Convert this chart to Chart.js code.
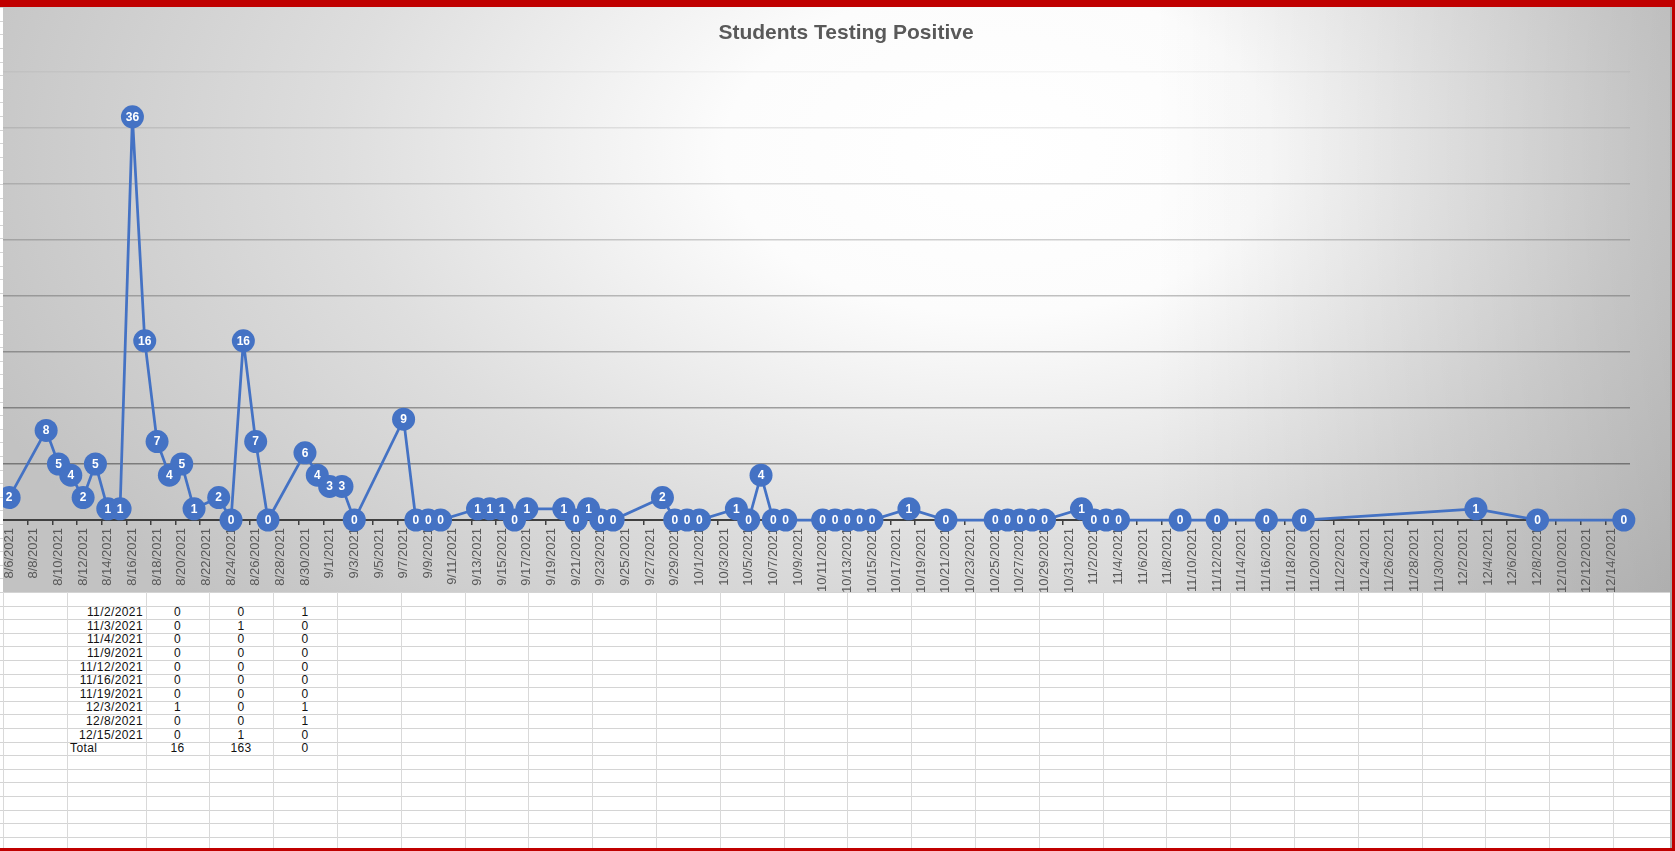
<!DOCTYPE html>
<html>
<head>
<meta charset="utf-8">
<title>Students Testing Positive</title>
<script src="https://cdn.jsdelivr.net/npm/chart.js@4.4.1/dist/chart.umd.min.js"></script>
<style>
  html, body { margin: 0; padding: 0; background: #fff; overflow: hidden; }
  body { width: 1675px; height: 851px; position: relative; font-family: "Liberation Sans", Arial, sans-serif; }
  #sheet { position: absolute; left: 0; top: 0; width: 1671px; height: 848px; }
  .hl { position: absolute; height: 1px; background: #d4d4d4; }
  .vl { position: absolute; width: 1px; background: #d9d9d9; }
  .cell { position: absolute; height: 14px; line-height: 14px; font-size: 12px; letter-spacing: 0.4px; color: #111; white-space: nowrap; }
  #chartbox {
    position: absolute; left: 3px; top: 7px; width: 1667px; height: 585px;
    background:
      linear-gradient(to right, rgba(0,0,0,0) 1150px, rgba(0,0,0,0.13) 1667px),
      radial-gradient(ellipse 1100px 660px at 997px 143px, #ffffff 0%, #fcfcfc 25%, #dedede 60%, #c2c2c2 100%);
  }
  #title {
    position: absolute; left: 646px; width: 400px; top: 20px; height: 24px; line-height: 24px;
    text-align: center; font-weight: bold; font-size: 21px; color: #595959;
  }
  #topbar { position: absolute; left: 0; top: 0; width: 1675px; height: 7px; background: #c00000; }
  #rightline { position: absolute; left: 1670px; top: 7px; width: 2px; height: 841px; background: #a6a6a6; }
  #rightbar { position: absolute; left: 1672px; top: 0; width: 3px; height: 851px; background: #c00000; }
  #bottombar { position: absolute; left: 0; top: 848px; width: 1675px; height: 3px; background: #c00000; }
</style>
</head>
<body>
<div id="sheet"></div>
<div id="chartbox"><canvas id="positiveChart"></canvas></div>
<div id="title">Students Testing Positive</div>
<div id="topbar"></div>
<div id="rightline"></div>
<div id="rightbar"></div>
<div id="bottombar"></div>

<script>
// datos del grafico (fechas de prueba y casos positivos)
const startDate = '8/6/2021';
const endDate = '12/15/2021';
const dates = [
  '8/6/2021','8/9/2021','8/10/2021','8/11/2021','8/12/2021','8/13/2021','8/14/2021','8/15/2021',
  '8/16/2021','8/17/2021','8/18/2021','8/19/2021','8/20/2021','8/21/2021','8/23/2021','8/24/2021',
  '8/25/2021','8/26/2021','8/27/2021','8/30/2021','8/31/2021',
  '9/1/2021','9/2/2021','9/3/2021','9/7/2021','9/8/2021','9/9/2021','9/10/2021','9/13/2021',
  '9/14/2021','9/15/2021','9/16/2021','9/17/2021','9/20/2021','9/21/2021','9/22/2021','9/23/2021',
  '9/24/2021','9/28/2021','9/29/2021','9/30/2021',
  '10/1/2021','10/4/2021','10/5/2021','10/6/2021','10/7/2021','10/8/2021','10/11/2021','10/12/2021',
  '10/13/2021','10/14/2021','10/15/2021','10/18/2021','10/21/2021','10/25/2021','10/26/2021',
  '10/27/2021','10/28/2021','10/29/2021',
  '11/1/2021','11/2/2021','11/3/2021','11/4/2021','11/9/2021','11/12/2021','11/16/2021','11/19/2021',
  '12/3/2021','12/8/2021','12/15/2021'
];
const positives = [
  2,8,5,4,2,5,1,1,36,16,7,4,5,1,2,0,16,7,0,6,4,
  3,3,0,9,0,0,0,1,1,1,0,1,1,0,1,0,0,2,0,0,
  0,1,0,4,0,0,0,0,0,0,0,1,0,0,0,0,0,0,
  1,0,0,0,0,0,0,0,
  1,0,0
];

// hoja de calculo visible debajo del grafico
const tableDates = ['11/2/2021','11/3/2021','11/4/2021','11/9/2021','11/12/2021','11/16/2021','11/19/2021','12/3/2021','12/8/2021','12/15/2021'];
const tableColC = [0,0,0,0,0,0,0,1,0,0];
const tableColD = [0,1,0,0,0,0,0,0,0,1];
const tableColE = [1,0,0,0,0,0,0,1,1,0];
const totalLabel = 'Total';
const totals = [16, 163, 0];

const BLUE = '#4472c4';

function toDay(s) {
  const [m, d, y] = s.split('/').map(Number);
  return Date.UTC(y, m - 1, d) / 86400000;
}
const day0 = toDay(startDate);
const lastDay = toDay(endDate) - day0;

function fmtDay(v) {
  const dt = new Date((day0 + v) * 86400000);
  return (dt.getUTCMonth() + 1) + '/' + dt.getUTCDate() + '/' + dt.getUTCFullYear();
}

// ---- hoja ----
const sheet = document.getElementById('sheet');
const ROW_H = 13.6;
for (let y = 592 - ROW_H * 43; y < 848; y += ROW_H) {
  if (y < 0) continue;
  const l = document.createElement('div');
  l.className = 'hl';
  l.style.left = '0px'; l.style.width = '1671px'; l.style.top = Math.round(y) + 'px';
  sheet.appendChild(l);
}
const colX = [3, 67, 146, 209, 273, 337];
for (let x = 400.8; x < 1668; x += 63.8) colX.push(Math.round(x));
colX.forEach(x => {
  const l = document.createElement('div');
  l.className = 'vl';
  l.style.left = x + 'px'; l.style.top = '592px'; l.style.height = '256px';
  sheet.appendChild(l);
});

function cell(text, left, width, row, align) {
  const c = document.createElement('div');
  c.className = 'cell';
  c.textContent = text;
  c.style.left = left + 'px';
  c.style.width = width + 'px';
  c.style.top = (592 + ROW_H * row - 0.5) + 'px';
  c.style.textAlign = align;
  sheet.appendChild(c);
}
tableDates.forEach((d, i) => {
  const r = i + 1;
  cell(d, 67, 76, r, 'right');
  cell(String(tableColC[i]), 146, 63, r, 'center');
  cell(String(tableColD[i]), 209, 64, r, 'center');
  cell(String(tableColE[i]), 273, 64, r, 'center');
});
cell(totalLabel, 70, 70, tableDates.length + 1, 'left');
cell(String(totals[0]), 146, 63, tableDates.length + 1, 'center');
cell(String(totals[1]), 209, 64, tableDates.length + 1, 'center');
cell(String(totals[2]), 273, 64, tableDates.length + 1, 'center');

// ---- grafico ----
Chart.defaults.font.family = '"Liberation Sans", Arial, sans-serif';

// etiquetas blancas dentro de cada marcador
const pointLabels = {
  id: 'pointLabels',
  afterDatasetsDraw(chart) {
    const ctx = chart.ctx;
    const meta = chart.getDatasetMeta(0);
    ctx.save();
    ctx.font = 'bold 12px "Liberation Sans", Arial, sans-serif';
    ctx.fillStyle = '#ffffff';
    ctx.textAlign = 'center';
    ctx.textBaseline = 'middle';
    meta.data.forEach((pt, i) => ctx.fillText(String(positives[i]), pt.x, pt.y + 0.5));
    ctx.restore();
  }
};

const points = dates.map((d, i) => ({ x: toDay(d) - day0, y: positives[i] }));

new Chart(document.getElementById('positiveChart'), {
  type: 'line',
  data: {
    datasets: [{
      label: 'Students Testing Positive',
      data: points,
      borderColor: BLUE,
      borderWidth: 2.75,
      pointRadius: 11.5,
      pointHoverRadius: 11.5,
      pointBackgroundColor: BLUE,
      pointBorderWidth: 0,
      tension: 0,
      clip: false
    }]
  },
  options: {
    responsive: true,
    maintainAspectRatio: false,
    animation: false,
    events: [],
    layout: { padding: { left: 0, right: 40, top: 65, bottom: 0 }, autoPadding: false },
    plugins: { legend: { display: false }, tooltip: { enabled: false }, title: { display: false } },
    scales: {
      x: {
        type: 'linear',
        min: -0.5,
        max: lastDay + 0.5,
        afterBuildTicks: (scale) => {
          const t = [];
          for (let d = 0; d < lastDay; d += 2) t.push({ value: d });
          scale.ticks = t;
        },
        afterFit: (scale) => {
          scale.height = 72;
          scale.paddingLeft = 0;
          scale.paddingRight = 0;
        },
        ticks: {
          autoSkip: false,
          minRotation: 90,
          maxRotation: 90,
          padding: 8,
          color: '#595959',
          font: { size: 13 },
          callback: (v) => fmtDay(v)
        },
        grid: { display: true, drawOnChartArea: false, drawTicks: false },
        border: { color: '#404040', width: 2 }
      },
      // marcas del eje entre las etiquetas (como en Excel)
      xMarks: {
        type: 'linear',
        axis: 'x',
        position: { y: 0 },
        min: -0.5,
        max: lastDay + 0.5,
        afterBuildTicks: (scale) => {
          const t = [];
          for (let d = 1.5; d < lastDay; d += 2) t.push({ value: d });
          scale.ticks = t;
        },
        ticks: { display: false },
        grid: { drawOnChartArea: false, drawTicks: true, tickLength: 5, color: '#404040', lineWidth: 1.5 },
        border: { display: false }
      },
      y: {
        min: 0,
        max: 40,
        ticks: { display: false, stepSize: 5 },
        border: { display: false },
        grid: {
          drawTicks: false,
          lineWidth: 1.5,
          color: (c) => {
            const v = c.tick ? c.tick.value : 0;
            if (v === 0) return 'rgba(0,0,0,0)';
            const a = Math.max(0.04, 0.38 - (v - 5) * 0.0097);
            return 'rgba(0,0,0,' + a.toFixed(3) + ')';
          }
        }
      }
    }
  },
  plugins: [pointLabels]
});
</script>
</body>
</html>
